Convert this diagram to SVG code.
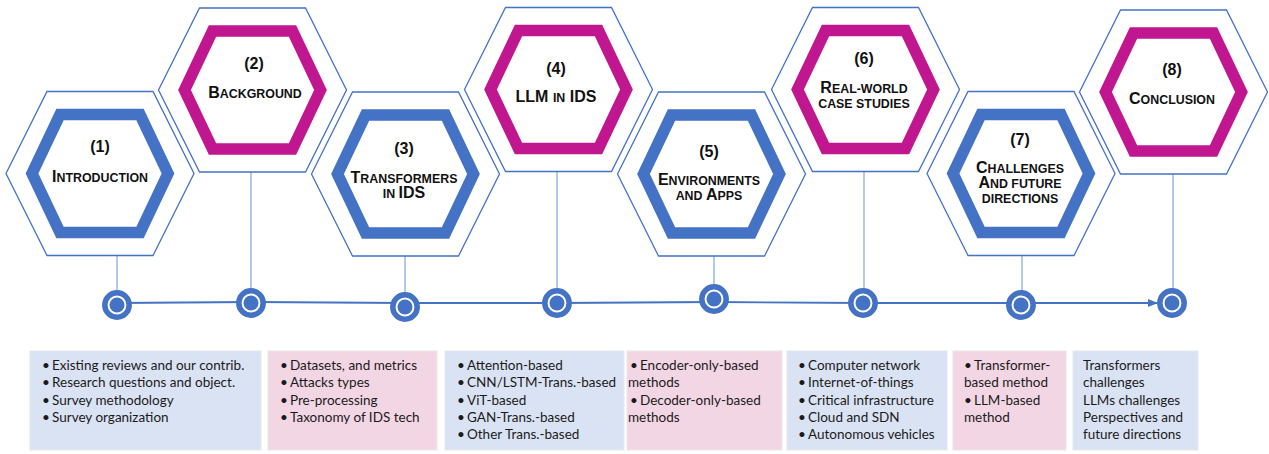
<svg xmlns="http://www.w3.org/2000/svg" xmlns:xlink="http://www.w3.org/1999/xlink" width="1269" height="454" viewBox="0 0 1269 454">
<style>
.outer{fill:#fff;stroke:#4472C4;stroke-width:1.3}
.inB{fill:#fff;stroke:#4472C4;stroke-width:11.5;stroke-linejoin:miter}
.inM{fill:#fff;stroke:#C0168F;stroke-width:11.5;stroke-linejoin:miter}
.lab{font-family:"Liberation Sans",Arial,sans-serif;font-weight:bold;font-size:16px;fill:#111;text-anchor:middle}
.sc{font-size:12.4px}
.vline{stroke:#8FAADC;stroke-width:1.3}
.tline{stroke:#4472C4;stroke-width:1.8;fill:none}
.ring{fill:#fff;stroke:#4472C4;stroke-width:5.5}
.dot{fill:#4472C4}
.boxB{fill:#DAE3F3;stroke:#E4E7EE;stroke-width:1}
.boxP{fill:#F3D6E4;stroke:#EEE4E8;stroke-width:1}
.bt{font-family:Lato,"Open Sans",sans-serif;font-size:13.5px;fill:#1a1a1a}
</style>
<defs>
<polygon id="oh" points="-94,0 -53,-82 53,-82 94,0 53,82 -53,82"/>
<polygon id="ih" points="-68,0 -40,-59 40,-59 68,0 40,59 -40,59"/>
<marker id="arr" markerWidth="10" markerHeight="8" refX="9" refY="4" orient="auto" markerUnits="userSpaceOnUse">
<path d="M0,0 L10,4 L0,8 z" fill="#4472C4"/>
</marker>
</defs>
<rect width="1269" height="454" fill="#fff"/>

<g id="connectors">
<line class="vline" x1="117" y1="255" x2="117" y2="305"/>
<line class="vline" x1="251" y1="172" x2="251" y2="302"/>
<line class="vline" x1="405" y1="256" x2="405" y2="307"/>
<line class="vline" x1="557" y1="171" x2="557" y2="303"/>
<line class="vline" x1="714" y1="256" x2="714" y2="299"/>
<line class="vline" x1="864" y1="171" x2="864" y2="303"/>
<line class="vline" x1="1022" y1="255" x2="1022" y2="305"/>
<line class="vline" x1="1173" y1="174" x2="1173" y2="303"/>
<polyline class="tline" points="117,303 251,302 405,303 557,303 714,302 864,303 1022,303 1157,303" marker-end="url(#arr)"/>
</g>

<g id="node1">
<use href="#oh" x="100" y="173.5" class="outer"/>
<use href="#ih" x="100" y="173.5" class="inB"/>
<text class="lab" x="100" y="152">(1)</text>
<text class="lab" x="100" y="182">I<tspan class="sc">NTRODUCTION</tspan></text>
</g>
<g id="node2">
<use href="#oh" x="252.5" y="90" class="outer"/>
<use href="#ih" x="252.5" y="90" class="inM"/>
<text class="lab" x="254" y="69">(2)</text>
<text class="lab" x="255" y="98">B<tspan class="sc">ACKGROUND</tspan></text>
</g>
<g id="node3">
<use href="#oh" x="405.5" y="174" class="outer"/>
<use href="#ih" x="405.5" y="174" class="inB"/>
<text class="lab" x="404" y="153.5">(3)</text>
<text class="lab" x="404" y="183">T<tspan class="sc">RANSFORMERS</tspan></text>
<text class="lab" x="404" y="198"><tspan class="sc">IN </tspan>IDS</text>
</g>
<g id="node4">
<use href="#oh" x="558.5" y="89.5" class="outer"/>
<use href="#ih" x="558.5" y="89.5" class="inM"/>
<text class="lab" x="556" y="74">(4)</text>
<text class="lab" x="556" y="102">LLM <tspan class="sc">IN</tspan> IDS</text>
</g>
<g id="node5">
<use href="#oh" x="711.5" y="174" class="outer"/>
<use href="#ih" x="711.5" y="174" class="inB"/>
<text class="lab" x="709" y="157">(5)</text>
<text class="lab" x="709" y="185">E<tspan class="sc">NVIRONMENTS</tspan></text>
<text class="lab" x="709" y="200"><tspan class="sc">AND </tspan>A<tspan class="sc">PPS</tspan></text>
</g>
<g id="node6">
<use href="#oh" x="865.5" y="89.5" class="outer"/>
<use href="#ih" x="865.5" y="89.5" class="inM"/>
<text class="lab" x="864" y="64">(6)</text>
<text class="lab" x="864" y="93">R<tspan class="sc">EAL-WORLD</tspan></text>
<text class="lab" x="864" y="108"><tspan class="sc">CASE STUDIES</tspan></text>
</g>
<g id="node7">
<use href="#oh" x="1021" y="173.5" class="outer"/>
<use href="#ih" x="1021" y="173.5" class="inB"/>
<text class="lab" x="1020" y="145">(7)</text>
<text class="lab" x="1020" y="173">C<tspan class="sc">HALLENGES</tspan></text>
<text class="lab" x="1020" y="188">A<tspan class="sc">ND FUTURE</tspan></text>
<text class="lab" x="1020" y="203"><tspan class="sc">DIRECTIONS</tspan></text>
</g>
<g id="node8">
<use href="#oh" x="1173.5" y="92" class="outer"/>
<use href="#ih" x="1173.5" y="92" class="inM"/>
<text class="lab" x="1172" y="75">(8)</text>
<text class="lab" x="1172" y="104">C<tspan class="sc">ONCLUSION</tspan></text>
</g>

<g id="timeline-points">
<circle class="ring" cx="117" cy="305" r="12.2"/><circle class="dot" cx="117" cy="305" r="7.5"/>
<circle class="ring" cx="251" cy="303" r="12.2"/><circle class="dot" cx="251" cy="303" r="7.5"/>
<circle class="ring" cx="405" cy="307" r="12.2"/><circle class="dot" cx="405" cy="307" r="7.5"/>
<circle class="ring" cx="557" cy="303" r="12.2"/><circle class="dot" cx="557" cy="303" r="7.5"/>
<circle class="ring" cx="714" cy="299" r="12.2"/><circle class="dot" cx="714" cy="299" r="7.5"/>
<circle class="ring" cx="863" cy="303" r="12.2"/><circle class="dot" cx="863" cy="303" r="7.5"/>
<circle class="ring" cx="1021" cy="305" r="12.2"/><circle class="dot" cx="1021" cy="305" r="7.5"/>
<circle class="ring" cx="1172" cy="303" r="12.2"/><circle class="dot" cx="1172" cy="303" r="7.5"/>
</g>

<g id="box1">
<rect class="boxB" x="30" y="351" width="231" height="99"/>
<text class="bt"><tspan x="42" y="370">•</tspan><tspan x="52" y="370">Existing reviews and our contrib.</tspan><tspan x="42" y="387.3">•</tspan><tspan x="52" y="387.3">Research questions and object.</tspan><tspan x="42" y="404.6">•</tspan><tspan x="52" y="404.6">Survey methodology</tspan><tspan x="42" y="422">•</tspan><tspan x="52" y="422">Survey organization</tspan></text>
</g>
<g id="box2">
<rect class="boxP" x="268" y="351" width="169" height="99"/>
<text class="bt"><tspan x="280" y="370">•</tspan><tspan x="290" y="370">Datasets, and metrics</tspan><tspan x="280" y="387.3">•</tspan><tspan x="290" y="387.3">Attacks types</tspan><tspan x="280" y="404.6">•</tspan><tspan x="290" y="404.6">Pre-processing</tspan><tspan x="280" y="422">•</tspan><tspan x="290" y="422">Taxonomy of IDS tech</tspan></text>
</g>
<g id="box3">
<rect class="boxB" x="445" y="351" width="179" height="99"/>
<text class="bt"><tspan x="457" y="370">•</tspan><tspan x="467" y="370">Attention-based</tspan><tspan x="457" y="387.3">•</tspan><tspan x="467" y="387.3">CNN/LSTM-Trans.-based</tspan><tspan x="457" y="404.6">•</tspan><tspan x="467" y="404.6">ViT-based</tspan><tspan x="457" y="422">•</tspan><tspan x="467" y="422">GAN-Trans.-based</tspan><tspan x="457" y="439.3">•</tspan><tspan x="467" y="439.3">Other Trans.-based</tspan></text>
</g>
<g id="box4">
<rect class="boxP" x="627" y="351" width="155" height="99"/>
<text class="bt"><tspan x="630" y="370">•</tspan><tspan x="640" y="370">Encoder-only-based</tspan><tspan x="628" y="387.3">methods</tspan><tspan x="630" y="404.6">•</tspan><tspan x="640" y="404.6">Decoder-only-based</tspan><tspan x="628" y="422">methods</tspan></text>
</g>
<g id="box5">
<rect class="boxB" x="787" y="351" width="160" height="99"/>
<text class="bt"><tspan x="798" y="370">•</tspan><tspan x="808" y="370">Computer network</tspan><tspan x="798" y="387.3">•</tspan><tspan x="808" y="387.3">Internet-of-things</tspan><tspan x="798" y="404.6">•</tspan><tspan x="808" y="404.6">Critical infrastructure</tspan><tspan x="798" y="422">•</tspan><tspan x="808" y="422">Cloud and SDN</tspan><tspan x="798" y="439.3">•</tspan><tspan x="808" y="439.3">Autonomous vehicles</tspan></text>
</g>
<g id="box6">
<rect class="boxP" x="953" y="351" width="113" height="99"/>
<text class="bt"><tspan x="964" y="370">•</tspan><tspan x="974" y="370">Transformer-</tspan><tspan x="964" y="387.3">based method</tspan><tspan x="964" y="404.6">•</tspan><tspan x="974" y="404.6">LLM-based</tspan><tspan x="964" y="422">method</tspan></text>
</g>
<g id="box7">
<rect class="boxB" x="1073" y="351" width="125" height="99"/>
<text class="bt"><tspan x="1083" y="370">Transformers</tspan><tspan x="1083" y="387.3">challenges</tspan><tspan x="1083" y="404.6">LLMs challenges</tspan><tspan x="1083" y="422">Perspectives and</tspan><tspan x="1083" y="439.3">future directions</tspan></text>
</g>
</svg>
